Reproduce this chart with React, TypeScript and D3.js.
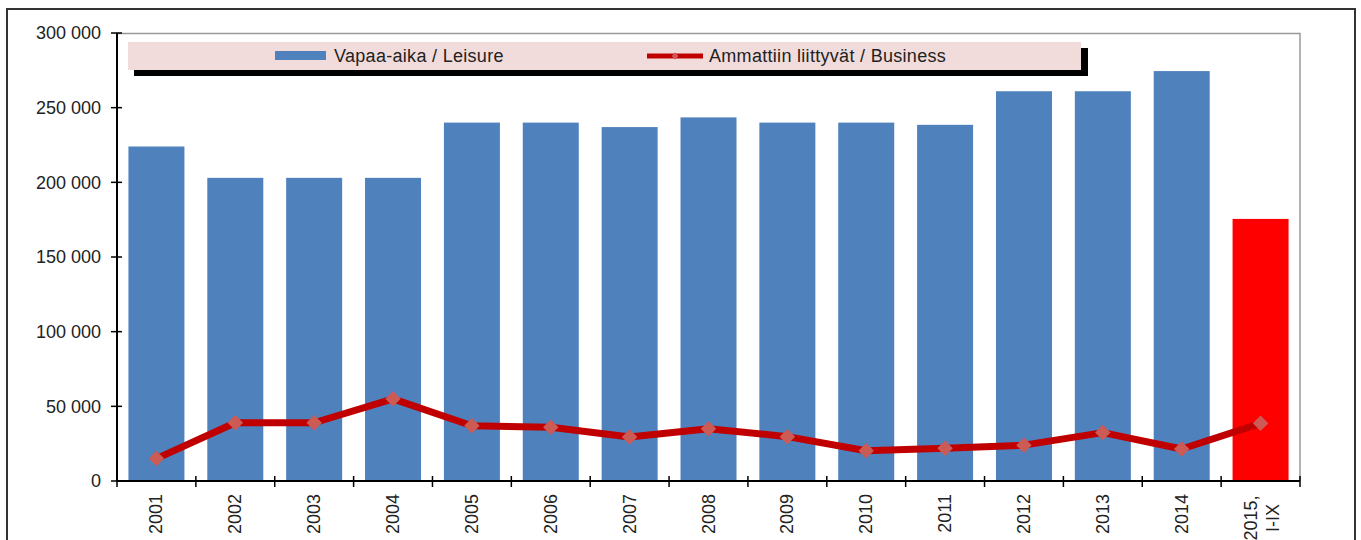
import React from "react";
import * as d3 from "d3";

const categories = ["2001","2002","2003","2004","2005","2006","2007","2008","2009","2010","2011","2012","2013","2014","2015, I-IX"];
const leisure = [224000,203000,203000,203000,240000,240000,237000,243500,240000,240000,238500,261000,261000,274500,175500];
const business = [15000,39000,39000,55000,37000,36000,29500,35000,29700,20300,22000,24000,32400,21400,38600];
const yTicks = [0,50000,100000,150000,200000,250000,300000];
const legendLabels = ["Vapaa-aika / Leisure", "Ammattiin liittyvät / Business"];

const W = 1361, H = 540;
const L = 117, R = 1300, T = 33, B = 481;
const FONT = "Arial, 'Liberation Sans', sans-serif";

export default function App() {
  const x = d3.scaleBand<string>().domain(categories).range([L, R]).paddingInner(0.29).paddingOuter(0.145);
  const step = x.step();
  const y = d3.scaleLinear().domain([0, 300000]).range([B, T]);
  const fmt = (v: number) => d3.format(",")(v).replace(/,/g, " ");
  const line = d3.line<number>().x((_, i) => (x(categories[i]) as number) + x.bandwidth() / 2).y(d => y(d));
  const diamond = d3.symbol().type(d3.symbolSquare).size(120)() as string;
  const smallDiamond = d3.symbol().type(d3.symbolSquare).size(24)() as string;

  return (
    <svg width={W} height={H} style={{ position: "absolute", left: 0, top: 0, background: "#fff" }} fontFamily={FONT}>
      <rect x={0} y={0} width={W} height={H} fill="#fff" />
      <rect x={7} y={9} width={1348} height={H} fill="none" stroke="#333" strokeWidth={2} />
      <path d={`M${L},${T + 0.5}H${R}V${B}`} fill="none" stroke="#999" strokeWidth={1.5} />
      {categories.map((c, i) => (
        <rect key={c} x={x(c)} y={y(leisure[i])} width={x.bandwidth()} height={B - y(leisure[i])}
          fill={i === categories.length - 1 ? "#ff0000" : "#4f81bd"} />
      ))}
      <path d={line(business) as string} fill="none" stroke="#c00000" strokeWidth={7} strokeLinejoin="round" />
      {business.map((v, i) => (
        <path key={i} d={diamond}
          transform={`translate(${(x(categories[i]) as number) + x.bandwidth() / 2},${y(v)}) rotate(45)`}
          fill="#cc5a55" />
      ))}
      <line x1={L} x2={L} y1={T} y2={B} stroke="#000" strokeWidth={2} />
      {yTicks.map(t => (
        <g key={t}>
          <line x1={L - 6} x2={L + 5} y1={y(t)} y2={y(t)} stroke="#000" strokeWidth={1.5} />
          <text x={101} y={y(t)} dy="0.35em" textAnchor="end" fontSize={18} fill="#222">{fmt(t)}</text>
        </g>
      ))}
      <line x1={L} x2={R} y1={B} y2={B} stroke="#000" strokeWidth={2} />
      {d3.range(categories.length + 1).map(i => (
        <line key={i} x1={L + i * step} x2={L + i * step} y1={B - 5} y2={B + 6} stroke="#000" strokeWidth={1.5} />
      ))}
      {categories.map((c, i) => {
        const cx = (x(c) as number) + x.bandwidth() / 2;
        const parts = c.split(" ");
        if (parts.length === 1) {
          return (
            <text key={c} transform={`translate(${cx + 6},${494}) rotate(-90)`} textAnchor="end" fontSize={18} fill="#222">{c}</text>
          );
        }
        return (
          <g key={c}>
            {parts.map((p, j) => (
              <text key={p} transform={`translate(${cx - 4 + j * 22},${518}) rotate(-90)`} textAnchor="middle" fontSize={18} fill="#222">{p}</text>
            ))}
          </g>
        );
      })}
      <rect x={134} y={48} width={954} height={28} fill="#000" />
      <rect x={128} y={42} width={953} height={28} fill="#f2dcdb" />
      <rect x={275} y={51} width={51} height={9} fill="#4f81bd" />
      <text x={334} y={56} dy="0.35em" fontSize={18} letterSpacing={0.3} fill="#222">{legendLabels[0]}</text>
      <line x1={647} x2={703} y1={56} y2={56} stroke="#c00000" strokeWidth={5} />
      <path d={smallDiamond} transform="translate(675,56) rotate(45)" fill="#cc5a55" />
      <text x={709} y={56} dy="0.35em" fontSize={18} letterSpacing={0.3} fill="#222">{legendLabels[1]}</text>
    </svg>
  );
}
